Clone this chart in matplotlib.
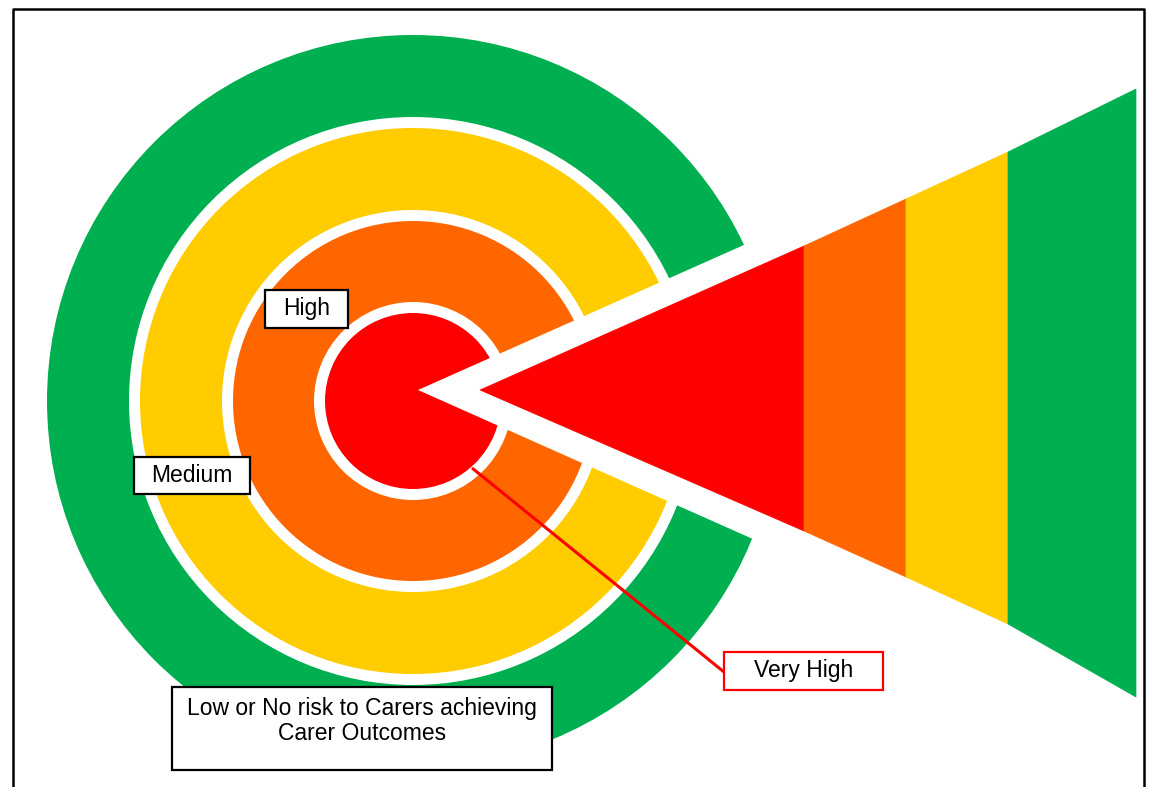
import matplotlib
matplotlib.use("Agg")
import matplotlib.pyplot as plt
from matplotlib.patches import Circle, Polygon, Rectangle

# ---- data ----
levels = ["Very High", "High", "Medium", "Low"]
level_colors = ["#FF0000", "#FF6600", "#FFCC00", "#00B050"]
label_texts = ["Very High", "High", "Medium",
               "Low or No risk to Carers achieving\nCarer Outcomes"]

# ---- layout (pixel coordinates) ----
W, H = 1149, 787
cx, cy = 413, 401
ring_outer = [88, 180, 273, 366]      # outer radius per level (inner -> outer)
gap = 11
apex_cut = (418, 390)                  # white wedge apex
cut_slope = 0.445
band_x = [480, 804, 906, 1008, 1136]   # triangle band boundaries (apex first)
band_top = [390, 246, 199, 152, 89]
band_bot = [390, 531, 577, 624, 697]

plt.rcParams['font.family'] = ['Liberation Sans', 'DejaVu Sans']

fig = plt.figure(figsize=(W / 100, H / 100), dpi=100)
ax = fig.add_axes([0, 0, 1, 1])
ax.set_xlim(0, W)
ax.set_ylim(H, 0)
ax.set_aspect('equal')
ax.axis('off')

# rings (draw outermost first)
for i in range(len(levels) - 1, -1, -1):
    ax.add_patch(Circle((cx, cy), ring_outer[i], facecolor=level_colors[i],
                        edgecolor='none', zorder=1))
    if i > 0:
        ax.add_patch(Circle((cx, cy), ring_outer[i - 1] + gap,
                            facecolor='white', edgecolor='none', zorder=1))

# white cut wedge
xe = 800
ax.add_patch(Polygon([apex_cut,
                      (xe, apex_cut[1] - cut_slope * (xe - apex_cut[0])),
                      (xe, apex_cut[1] + cut_slope * (xe - apex_cut[0]))],
                     closed=True, facecolor='white', edgecolor='none', zorder=2))

# coloured triangle bands
for i in range(len(levels)):
    x0, x1 = band_x[i], band_x[i + 1]
    ax.add_patch(Polygon([(x0, band_top[i]), (x1, band_top[i + 1]),
                          (x1, band_bot[i + 1]), (x0, band_bot[i])],
                         closed=True, facecolor=level_colors[i], edgecolor=level_colors[i],
                         linewidth=0.5, zorder=3))

# label boxes
fs = 16.5
def box(x0, y0, x1, y1, ec):
    ax.add_patch(Rectangle((x0, y0), x1 - x0, y1 - y0, facecolor='white',
                           edgecolor=ec, linewidth=1.6, zorder=5))

# red leader line
ax.plot([472, 724], [468, 672], color='#FF0000', lw=2.2, zorder=4,
        solid_capstyle='butt')

box(724, 652, 883, 690, '#FF0000')
ax.text(803.5, 671, label_texts[0], ha='center', va='center', fontsize=fs, zorder=6)

box(265, 290, 348, 328, 'black')
ax.text(306.5, 309, label_texts[1], ha='center', va='center', fontsize=fs, zorder=6)

box(134, 457, 250, 494, 'black')
ax.text(192, 475.5, label_texts[2], ha='center', va='center', fontsize=fs, zorder=6)

box(172, 687, 552, 770, 'black')
line1, line2 = label_texts[3].split("\n")
ax.text(362, 709, line1, ha='center', va='center', fontsize=fs, zorder=6)
ax.text(362, 733, line2, ha='center', va='center', fontsize=fs, zorder=6)

# outer frame (no bottom edge visible)
ax.plot([13, 13, 1144, 1144], [H + 5, 9, 9, H + 5], color='black', lw=1.8, zorder=7)

fig.savefig("out.png", dpi=100)
